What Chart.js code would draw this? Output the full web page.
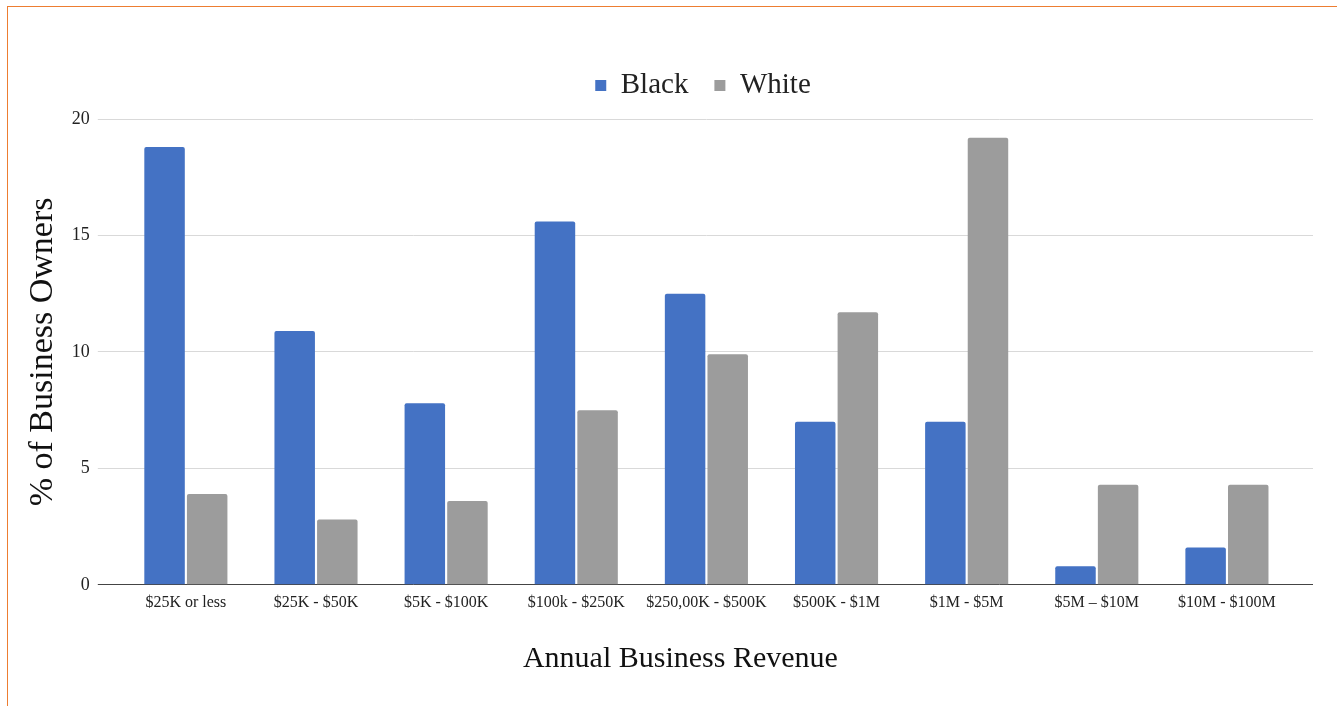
<!DOCTYPE html>
<html>
<head>
<meta charset="utf-8">
<script src="https://cdn.jsdelivr.net/npm/chart.js@4"></script>
<style>
  html, body { margin: 0; padding: 0; background: #fff; }
  #frame {
    position: absolute; left: 7px; top: 6px; width: 1330px; height: 700px;
    border-top: 1px solid #ed7d31; border-left: 1px solid #ed7d31;
  }
</style>
</head>
<body>
<div id="frame"><canvas id="myChart" width="1329" height="699"></canvas></div>
<script>
var categories = ['$25K or less', '$25K - $50K', '$5K - $100K', '$100k - $250K', '$250,00K - $500K',
                  '$500K - $1M', '$1M - $5M', '$5M \u2013 $10M', '$10M - $100M'];
var blackValues = [18.8, 10.9, 7.8, 15.6, 12.5, 7.0, 7.0, 0.8, 1.6];
var whiteValues = [3.9, 2.8, 3.6, 7.5, 9.9, 11.7, 19.2, 4.3, 4.3];
var yTicks = [0, 5, 10, 15, 20];

var serif = "'Liberation Serif', 'Times New Roman', serif";
Chart.defaults.font.family = serif;
Chart.defaults.color = '#222';

// grid lines: baseline darker than the rest
function gridColor(ctx) {
    return ctx.tick && ctx.tick.value === 0 ? '#444' : '#d9d9d9';
}

// extra space under the legend, and nudge legend / x title sideways
var legendGap = {
    id: 'legendGap',
    beforeInit: function (chart) {
        var fit = chart.legend.fit;
        chart.legend.fit = function () {
            fit.call(this);
            this.height += 9;
        };
    },
    afterLayout: function (chart) {
        chart.legend.left += 37;
        chart.legend.right += 37;
        var x = chart.scales.x;
        if (!x._titleNudged) {
            var drawTitle = x.drawTitle;
            x.drawTitle = function () {
                var c = this.ctx;
                c.save();
                c.translate(-26, 0);
                drawTitle.apply(this, arguments);
                c.restore();
            };
            x._titleNudged = true;
        }
    }
};

var ctx = document.getElementById('myChart').getContext('2d');
var myChart = new Chart(ctx, {
    type: 'bar',
    data: {
        labels: categories,
        datasets: [
            {
                label: 'Black',
                data: blackValues,
                backgroundColor: '#4472c4',
                borderRadius: { topLeft: 2, topRight: 2 },
                borderSkipped: 'bottom'
            },
            {
                label: 'White',
                data: whiteValues,
                backgroundColor: '#9c9c9c',
                borderRadius: { topLeft: 2, topRight: 2 },
                borderSkipped: 'bottom'
            }
        ]
    },
    plugins: [legendGap],
    options: {
        responsive: false,
        animation: false,
        categoryPercentage: 0.655,
        barPercentage: 0.95,
        layout: {
            padding: { top: 38, left: 11, right: 24, bottom: 25 }
        },
        scales: {
            x: {
                grid: { display: false },
                border: { display: false },
                ticks: { font: { size: 16 }, color: '#222', padding: 0, maxRotation: 0, autoSkip: false },
                title: {
                    display: true,
                    text: 'Annual Business Revenue',
                    font: { size: 30 },
                    color: '#111',
                    padding: { top: 29 }
                }
            },
            y: {
                min: 0,
                max: 20,
                afterBuildTicks: function (axis) {
                    axis.ticks = yTicks.map(function (v) { return { value: v }; });
                },
                grid: { color: gridColor, tickLength: 23, lineWidth: 1 },
                border: { display: false },
                ticks: { font: { size: 18 }, color: '#222', padding: 8 },
                title: {
                    display: true,
                    text: '% of Business Owners',
                    font: { size: 34 },
                    color: '#111',
                    padding: { top: 4, bottom: 0 }
                }
            },
            yRight: {
                position: 'right',
                min: 0,
                max: 20,
                afterBuildTicks: function (axis) {
                    axis.ticks = yTicks.map(function (v) { return { value: v }; });
                },
                grid: { color: gridColor, tickLength: 21, drawOnChartArea: false },
                border: { display: false },
                ticks: { display: false }
            }
        },
        plugins: {
            legend: {
                position: 'top',
                labels: {
                    font: { size: 29 },
                    color: '#222',
                    boxWidth: 11,
                    boxHeight: 11,
                    padding: 26
                }
            },
            tooltip: { enabled: false }
        }
    }
});
</script>
</body>
</html>
